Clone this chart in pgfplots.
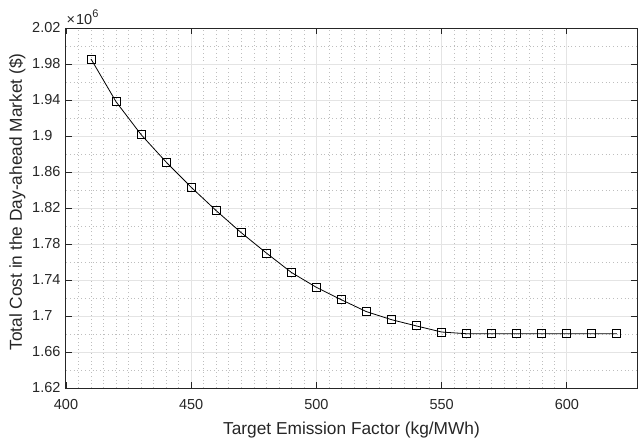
\documentclass[border=0pt]{standalone}
\usepackage{fontspec}
\setmainfont{Liberation Sans}
\usepackage{pgfplots}
\pgfplotsset{compat=1.18}

\definecolor{axgray}{RGB}{38,38,38}
\definecolor{majgrid}{RGB}{228,228,228}
\definecolor{mingrid}{RGB}{190,190,190}

\begin{document}
\begin{tikzpicture}[x=1pt,y=1pt]
\begin{axis}[
  width=571pt,
  height=360pt,
  scale only axis,
  at={(0,0)},
  xmin=400, xmax=628,
  ymin=1620000, ymax=2020000,
  xtick={400,450,...,600},
  ytick={1620000,1660000,...,2020000},
  yticklabels={1.62,1.66,1.7\hphantom{0},1.74,1.78,1.82,1.86,1.9\hphantom{0},1.94,1.98,2.02},
  scaled y ticks=false,
  minor x tick num=9,
  minor y tick num=1,
  grid=both,
  major grid style={color=majgrid, line width=1pt},
  minor grid style={color=mingrid, dash pattern=on 0.8pt off 3pt, line width=0.6pt},
  axis line style={color=axgray, line width=1pt},
  tick style={color=axgray, line width=0.8pt},
  major tick length=6pt,
  minor tick length=0pt,
  tick align=inside,
  xtick pos=both, ytick pos=both,
  /pgf/number format/assume math mode=true,
  ticklabel style={font=\fontsize{14.5}{16}\selectfont, color=axgray},
  xticklabel style={yshift=-8pt},
  yticklabel style={xshift=-2pt},
  label style={font=\fontsize{17.3}{19}\selectfont, color=axgray},
  xlabel={Target Emission Factor (kg/MWh)},
  ylabel={Total Cost in the Day-ahead Market (\$)},
  xlabel style={at={(axis description cs:0.5,0)}, anchor=base, inner sep=0pt, yshift=-46pt},
  ylabel style={at={(axis description cs:0,0.5)}, anchor=base, inner sep=0pt, yshift=44pt, xshift=6pt},
  clip=false,
]
\addplot[color=black, line width=0.8pt, mark=square, mark size=4pt,
  mark options={line width=1pt, solid}]
coordinates {
(410,1985500) (420,1938000) (430,1901500) (440,1871000) (450,1843000)
(460,1817000) (470,1792500) (480,1770000) (490,1748400) (500,1731800)
(510,1718000) (520,1704800) (530,1695900) (540,1688900) (550,1682200)
(560,1680300) (570,1680300) (580,1680300) (590,1680300) (600,1680300)
(610,1680300) (620,1680300)
};
\end{axis}
\node[anchor=base west, inner sep=0pt, text=axgray, font=\fontsize{14.5}{16}\selectfont]
  at (0.5,363) {×\kern1pt 10\raisebox{0.5em}{\fontsize{11}{12}\selectfont 6}};
\pgfresetboundingbox
\path[use as bounding box] (-66,-49) rectangle (574,388);
\end{tikzpicture}
\end{document}
